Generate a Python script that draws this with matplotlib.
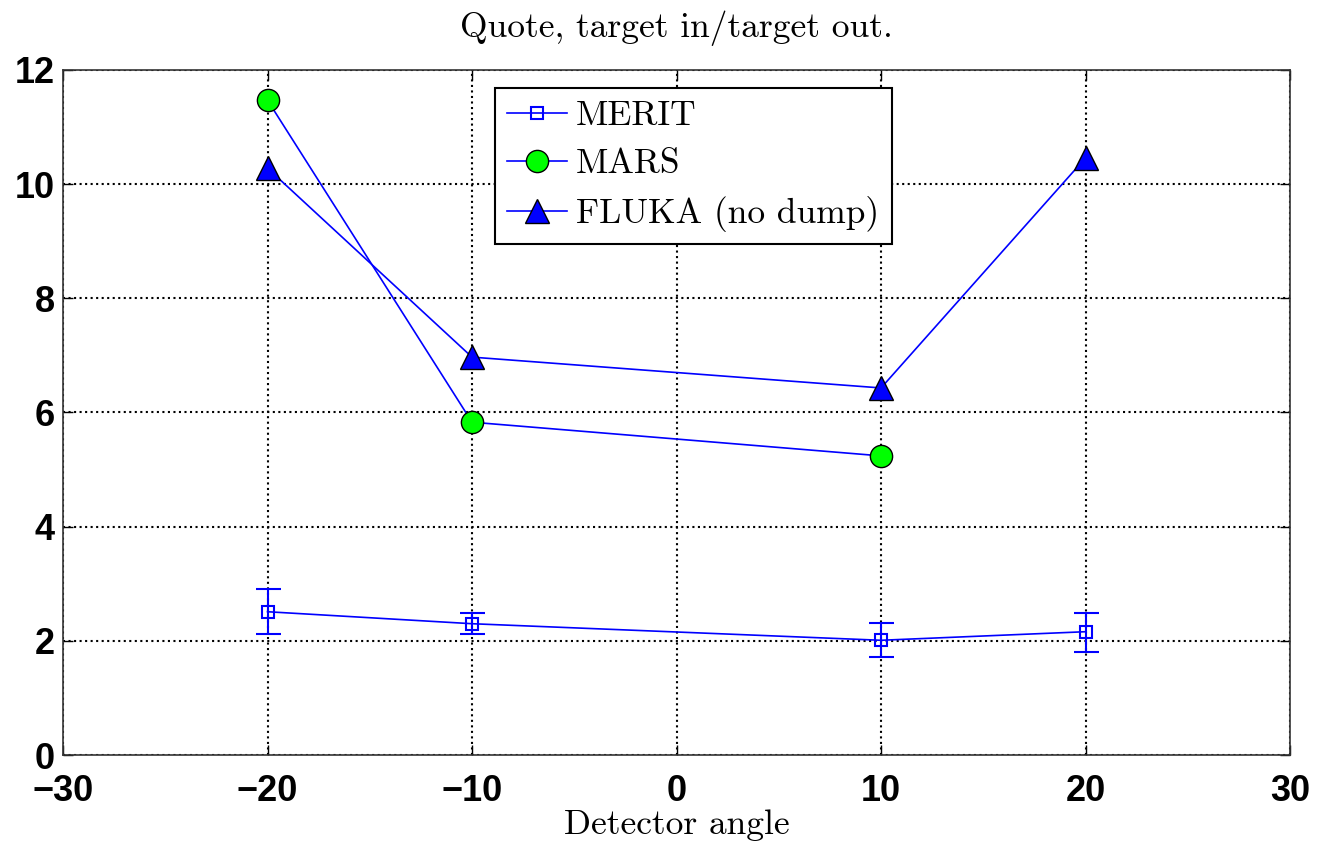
import matplotlib.pyplot as plt
from matplotlib.lines import Line2D

# detector angles
angles = [-20, -10, 10, 20]
merit = [2.51, 2.30, 2.01, 2.16]
merit_lo = [2.12, 2.12, 1.72, 1.80]
merit_hi = [2.91, 2.49, 2.31, 2.49]

mars_angles = [-20, -10, 10]
mars = [11.47, 5.83, 5.24]

fluka = [10.28, 6.97, 6.43, 10.46]

serif = ['cmr10', 'DejaVu Serif']

fig = plt.figure(figsize=(13.18, 8.42), dpi=100)
ax = fig.add_axes([0.0478, 0.1033, 0.9310, 0.8136])

err = [[m - l for m, l in zip(merit, merit_lo)], [h - m for m, h in zip(merit, merit_hi)]]
ax.errorbar(angles, merit, yerr=err, color='blue', lw=1.2, marker='s', ms=8,
            mfc='none', mec='blue', mew=1.5, capsize=9, capthick=1.5, elinewidth=1.5)
ax.plot(mars_angles, mars, color='blue', lw=1.2, marker='o', ms=16,
        mfc='#00ff00', mec='black', mew=1.0)
ax.plot(angles, fluka, color='blue', lw=1.2, marker='^', ms=17,
        mfc='blue', mec='black', mew=1.0)

ax.set_xlim(-30, 30)
ax.set_ylim(0, 12)
ax.set_xticks(range(-30, 31, 10))
ax.set_yticks(range(0, 13, 2))
ax.grid(True, color='black', linestyle=':', linewidth=1.5)
ax.tick_params(direction='in', top=True, right=True, length=7, width=1, labelsize=26)
ax.tick_params(axis='x', pad=14)
ax.tick_params(axis='y', pad=6)
for lab in ax.get_xticklabels() + ax.get_yticklabels():
    lab.set_fontfamily(['Liberation Sans', 'DejaVu Sans'])
    lab.set_fontweight('bold')
for s in ax.spines.values():
    s.set_linewidth(1.2)
    s.set_color('#333333')

ax.set_title('Quote, target in/target out.', fontsize=25.5, family=serif, pad=24)
ax.set_xlabel('Detector angle', fontsize=25.5, family=serif, labelpad=0)

handles = [
    Line2D([], [], color='blue', lw=1.2, marker='s', ms=8, mfc='none', mec='blue', mew=1.5),
    Line2D([], [], color='blue', lw=1.2, marker='o', ms=16, mfc='#00ff00', mec='black', mew=1.0),
    Line2D([], [], color='blue', lw=1.2, marker='^', ms=17, mfc='blue', mec='black', mew=1.0),
]
labels = ['MERIT', 'MARS', 'FLUKA (no dump)']
leg = ax.legend(handles, labels, loc='upper left', bbox_to_anchor=(0.3517, 0.9735),
                prop={'family': serif, 'size': 25.5},
                frameon=True, fancybox=False, edgecolor='black', framealpha=1,
                handlelength=1.7, handletextpad=0.25, borderpad=0.35, labelspacing=0.45,
                borderaxespad=0)
leg.get_frame().set_linewidth(1.5)

fig.savefig('out.png', dpi=100)
